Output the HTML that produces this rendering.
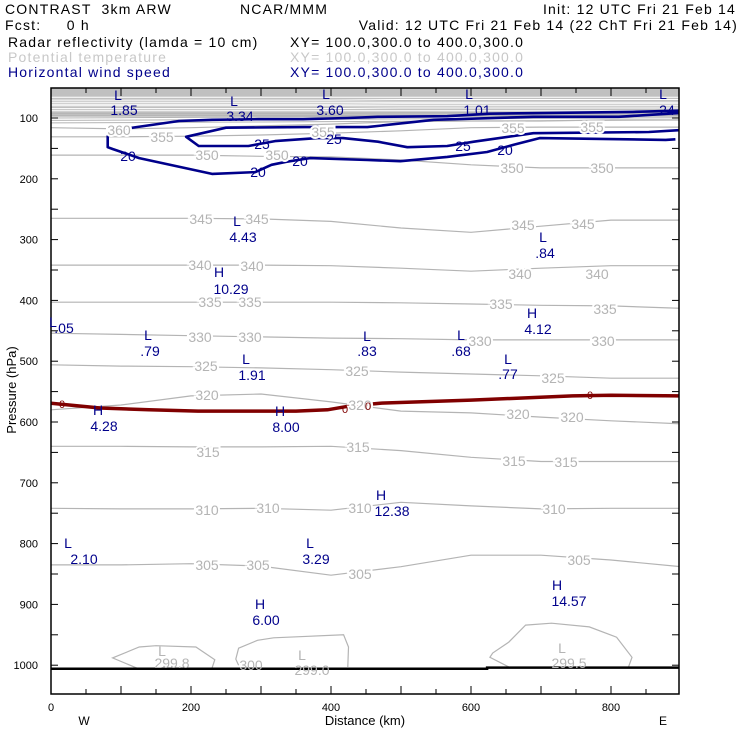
<!DOCTYPE html>
<html><head><meta charset="utf-8"><style>
html,body{margin:0;padding:0;background:#fff;}
svg{display:block;font-family:"Liberation Sans",sans-serif;}
.hd{font-size:14px;letter-spacing:1.2px;}
.lb{font-size:14px;fill:#00008b;text-anchor:middle;}
.gl{font-size:14px;fill:#b4b4b4;text-anchor:middle;paint-order:stroke;stroke:#fff;stroke-width:4px;}
.gl2{font-size:14px;fill:#b4b4b4;text-anchor:middle;}
.tk{font-size:11px;}
</style></head><body>
<svg id="chart" width="740" height="740" viewBox="0 0 740 740">
<rect width="740" height="740" fill="#fff"/>
<g class="hd">
<text x="5" y="14" xml:space="preserve">CONTRAST  3km ARW</text>
<text x="240" y="14">NCAR/MMM</text>
<text x="736" y="14" text-anchor="end">Init: 12 UTC Fri 21 Feb 14</text>
<text x="5" y="30" xml:space="preserve">Fcst:     0 h</text>
<text x="738" y="30" text-anchor="end">Valid: 12 UTC Fri 21 Feb 14 (22 ChT Fri 21 Feb 14)</text>
<text x="8" y="47">Radar reflectivity (lamda = 10 cm)</text>
<text x="290" y="47">XY= 100.0,300.0 to 400.0,300.0</text>
<text x="8" y="62" fill="#c8c8c8">Potential temperature</text>
<text x="290" y="62" fill="#c8c8c8">XY= 100.0,300.0 to 400.0,300.0</text>
<text x="8" y="77" fill="#00008b">Horizontal wind speed</text>
<text x="290" y="77" fill="#00008b">XY= 100.0,300.0 to 400.0,300.0</text>
</g>
<g id="plot"></g>
<g id="labels"></g>
<text x="365" y="725" text-anchor="middle" font-size="13">Distance (km)</text>
<text x="84" y="725" text-anchor="middle" font-size="12">W</text>
<text x="663" y="725" text-anchor="middle" font-size="12">E</text>
<text transform="translate(16,390) rotate(-90)" text-anchor="middle" font-size="13">Pressure (hPa)</text>
</svg>
<script>
const kmGrid=[0,100,200,300,400,500,600,700,800,900];
const thetaLevels=[360,355,350,345,340,335,330,325,320,315,310,305];
const th360=[116,118,116,113,110,106,105,105,103,103];
const th355=[131,131,130,128,125,121,116,115,115,115];
const th350=[161,161,161,163,164,169,177,182,182,182];
const th345=[265,265,265,266,270,281,288,278,268,268];
const th340=[342,342,342,342,343,347,352,347,343,343];
const th335=[403,403,403,403,403,404,406,408,409,413];
const th330=[454,456,458,460,462,463,465,465,465,465];
const th325=[506,508,509,511,514,518,521,524,528,528];
const th320=[580,572,557,554,567,582,585,592,598,603];
const th315=[640,640,641,641,640,647,658,665,665,665];
const th310=[742,743,743,742,745,732,738,743,742,742];
const th305=[835,835,833,837,852,838,819,819,827,838];
const topLevels=[66,70,74,77,80,84,88,92,96];
const blob1=[[123,1005],[88,988],[126,970],[150,968],[207,970],[234,991],[230,1005]];
const blob2=[[268,1000],[264,990],[268,972],[295,959],[318,955],[418,950],[425,970],[424,1003]];
const blob3=[[654,1003],[627,987],[631,980],[654,962],[678,934],[715,931],[769,937],[808,954],[830,987],[825,1003]];
const wind20=[[892,135],[878,136],[698,133],[661,144],[623,156],[566,164],[499,171],[452,169],[370,166],[336,172],[315,177],[292,189],[230,192],[126,166],[88,151],[81,148],[81,130],[94,120],[122,115],[183,105],[230,103],[296,102],[360,102],[424,100],[467,98],[566,97],[627,93],[831,90],[897,88]];
const wind25=[[897,92],[882,93],[811,98],[689,98],[547,103],[452,115],[363,115],[250,116],[193,131],[211,146],[282,146],[320,138],[381,133],[417,133],[467,139],[509,148],[566,146],[604,139],[689,125],[854,123],[897,120]];
const freeze0=[[0,569],[70,577],[140,580],[210,582],[350,582],[395,580],[425,574],[470,569],[600,564],[745,557],[800,556],[897,557]];
const ground=[[0,1006],[623,1006],[623,1004],[897,1004]];
const yTicks=[100,200,300,400,500,600,700,800,900,1000];
const xTicks=[0,200,400,600,800];

const X0=51,X1=679,Y0=88,Y1=694;
function sx(km){return X0+km*0.70;}
function sy(p){return 118+(p-100)*0.608;}
const NS='http://www.w3.org/2000/svg';
const plot=document.getElementById('plot');
function el(tag,attrs,parent){const e=document.createElementNS(NS,tag);for(const k in attrs)e.setAttribute(k,attrs[k]);(parent||plot).appendChild(e);return e;}
function pts(arr){return arr.map(d=>sx(d[0]).toFixed(1)+','+sy(d[1]).toFixed(1)).join(' ');}

const clip=el('clipPath',{id:'pc'});el('rect',{x:X0,y:Y0,width:X1-X0,height:Y1-Y0},clip);
const g=el('g',{'clip-path':'url(#pc)'});
let topFill=el('rect',{x:X0,y:Y0,width:X1-X0,height:sy(98)-Y0,fill:'#c0c0c0'},g);


topLevels.forEach(function(p,i){
  const l=el('polyline',{points:pts(kmGrid.map((k,j)=>[k,p+(j<5?0.5:-0.5)*(i%2)])),fill:'none',stroke:i<7?'#fff':'#b4b4b4','stroke-width':1},g);
  
  
});
[100,104,108].forEach(function(p){
  const l=el('polyline',{points:pts(kmGrid.map((k,j)=>[k,p-j*0.5])),fill:'none',stroke:'#b4b4b4','stroke-width':1},g);
  
  
});
const thetaSeries=[th360,th355,th350,th345,th340,th335,th330,th325,th320,th315,th310,th305];
thetaSeries.forEach(function(s,i){
  const l=el('polyline',{points:pts(kmGrid.map((k,j)=>[k,s[j]])),fill:'none',stroke:'#b4b4b4','stroke-width':1.2},g);
  
  
});
[blob1,blob2,blob3].forEach(function(b,i){
  const l=el('polyline',{points:pts(b),fill:'none',stroke:'#b4b4b4','stroke-width':1.2},g);
  
  
});
let w1=el('polyline',{points:pts(wind20),fill:'none',stroke:'#00008b','stroke-width':2.6,'stroke-linejoin':'round'},g);


let w2=el('polyline',{points:pts(wind25),fill:'none',stroke:'#00008b','stroke-width':2.6,'stroke-linejoin':'round'},g);


let fz=el('polyline',{points:pts(freeze0),fill:'none',stroke:'#800000','stroke-width':3.5},g);


let gr=el('polyline',{points:pts(ground),fill:'none',stroke:'#000','stroke-width':2.5},g);



let fr=el('rect',{x:X0,y:Y0,width:X1-X0,height:Y1-Y0,fill:'none',stroke:'#000','stroke-width':1.5});


for(let p=100;p<=1000;p+=50){
  const y=sy(p);
  el('line',{x1:X0,x2:X0+7,y1:y,y2:y,stroke:'#000'});
  el('line',{x1:X1-7,x2:X1,y1:y,y2:y,stroke:'#000'});
}
for(let k=50;k<=850;k+=50){
  const x=sx(k),len=(k%100==0)?8:5;
  el('line',{x1:x,x2:x,y1:Y1,y2:Y1-len,stroke:'#000'});
  el('line',{x1:x,x2:x,y1:Y0,y2:Y0+len,stroke:'#000'});
}
yTicks.forEach(function(p){
  const t=el('text',{x:38,y:sy(p)+4,'text-anchor':'end','font-size':11});
  t.textContent=p;
  
  
});
xTicks.forEach(function(k){
  const t=el('text',{x:sx(k),y:711,'text-anchor':'middle','font-size':11});
  t.textContent=k;
  
  
});
</script>
<svg width="740" height="740" style="position:absolute;left:0;top:0">
<g style="font-family:'Liberation Sans',sans-serif">
<g class="gl">
<text x="119" y="135">360</text><text x="162" y="142">355</text><text x="323" y="137">355</text>
<text x="513" y="133">355</text><text x="592" y="132">355</text>
<text x="207" y="160">350</text><text x="277" y="160">350</text><text x="512" y="173">350</text><text x="602" y="173">350</text>
<text x="201" y="224">345</text><text x="257" y="224">345</text><text x="523" y="230">345</text><text x="583" y="229">345</text>
<text x="200" y="270">340</text><text x="252" y="271">340</text><text x="520" y="279">340</text><text x="597" y="279">340</text>
<text x="210" y="307">335</text><text x="250" y="307">335</text><text x="501" y="309">335</text><text x="605" y="314">335</text>
<text x="200" y="342">330</text><text x="250" y="342">330</text><text x="480" y="346">330</text><text x="603" y="346">330</text>
<text x="206" y="371">325</text><text x="357" y="376">325</text><text x="553" y="383">325</text>
<text x="207" y="400">320</text><text x="360" y="410">320</text><text x="518" y="419">320</text><text x="572" y="422">320</text>
<text x="208" y="457">315</text><text x="358" y="452">315</text><text x="514" y="466">315</text><text x="566" y="467">315</text>
<text x="207" y="515">310</text><text x="268" y="513">310</text><text x="360" y="513">310</text><text x="554" y="514">310</text>
<text x="207" y="570">305</text><text x="258" y="570">305</text><text x="360" y="579">305</text><text x="579" y="565">305</text>
</g>
<g class="gl2">
<text x="162" y="656">L</text><text x="172" y="668">299.8</text>
<text x="302" y="660">L</text><text x="312" y="675">299.0</text>
<text x="251" y="670">300</text>
<text x="562" y="653">L</text><text x="569" y="668">299.5</text>
</g>
<g fill="#800000" font-size="11" text-anchor="middle">
<text x="62" y="408">0</text><text x="345" y="413">0</text><text x="368" y="410">0</text><text x="590" y="399">0</text>
</g>
<g class="lb">
<text x="128" y="161">20</text><text x="258" y="177">20</text><text x="300" y="166">20</text><text x="505" y="155">20</text>
<text x="262" y="149">25</text><text x="334" y="144">25</text><text x="463" y="151">25</text>
</g>
<g class="lb">
<text x="118" y="100">L</text><text x="124" y="115">1.85</text>
<text x="234" y="106">L</text><text x="240" y="121">3.34</text>
<text x="326" y="99">L</text><text x="330" y="115">3.60</text>
<text x="469" y="99">L</text><text x="477" y="115">1.01</text>
<text x="663" y="99">L</text><text x="665" y="115">.24</text>
<text x="237" y="226">L</text><text x="243" y="242">4.43</text>
<text x="543" y="242">L</text><text x="545" y="258">.84</text>
<text x="219" y="277">H</text><text x="231" y="294">10.29</text>
<text x="53" y="327">L</text><text x="64" y="333">.05</text>
<text x="532" y="318">H</text><text x="538" y="334">4.12</text>
<text x="148" y="340">L</text><text x="150" y="356">.79</text>
<text x="367" y="341">L</text><text x="367" y="356">.83</text>
<text x="461" y="340">L</text><text x="461" y="356">.68</text>
<text x="246" y="364">L</text><text x="252" y="380">1.91</text>
<text x="508" y="364">L</text><text x="508" y="379">.77</text>
<text x="98" y="415">H</text><text x="104" y="431">4.28</text>
<text x="280" y="416">H</text><text x="286" y="432">8.00</text>
<text x="381" y="500">H</text><text x="392" y="516">12.38</text>
<text x="68" y="548">L</text><text x="84" y="564">2.10</text>
<text x="310" y="548">L</text><text x="316" y="564">3.29</text>
<text x="557" y="590">H</text><text x="569" y="606">14.57</text>
<text x="260" y="609">H</text><text x="266" y="625">6.00</text>
</g>
</g>
</svg>
</body></html>
